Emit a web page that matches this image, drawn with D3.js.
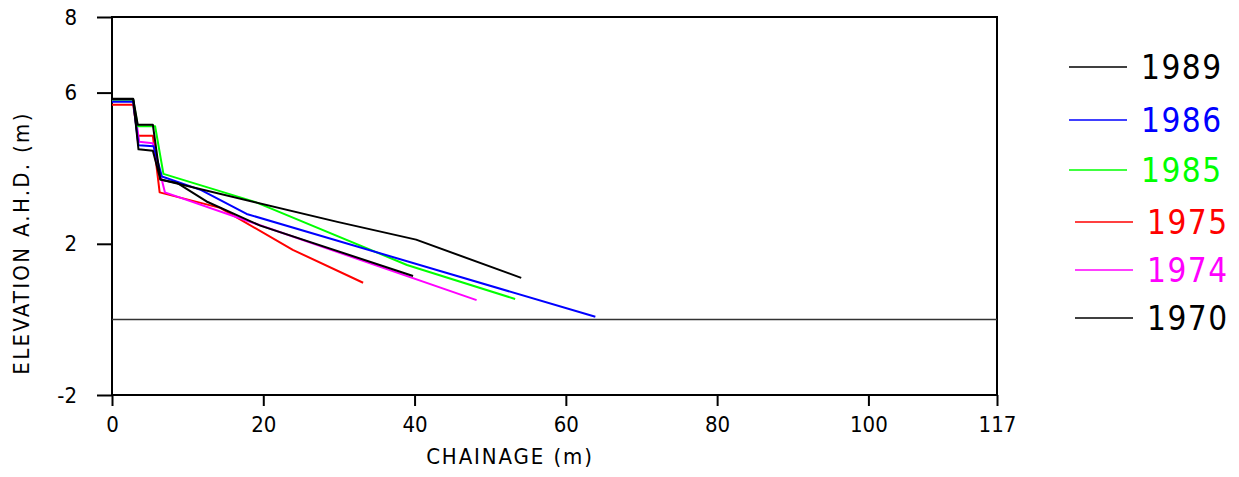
<!DOCTYPE html>
<meta charset="utf-8">
<style>
body { margin: 0; background: #fff; }
svg text { font-family: "Liberation Sans Narrow", "DejaVu Sans Condensed", sans-serif; }
.axis path, .axis line { stroke: #000; stroke-width: 2px; }
.series { fill: none; stroke-width: 2px; stroke-linejoin: round; }
</style>
<svg width="1239" height="477"></svg>
<script src="https://cdn.jsdelivr.net/npm/d3@7"></script>
<script>

// survey years, in legend order
var years = ["1989", "1986", "1985", "1975", "1974", "1970"];
var colors = ["#000000", "#0000ff", "#00ff00", "#ff0000", "#ff00ff", "#000000"];

// chainage (m) and elevation (m AHD) for each profile
var chain1989 = [0, 2.8, 3.4, 5.4, 6.4, 29.8, 40.2, 54.1];
var elev1989  = [5.84, 5.84, 5.15, 5.15, 3.70, 2.58, 2.11, 1.10];

var chain1986 = [0, 2.8, 3.5, 5.5, 6.6, 11.8, 17.8, 63.9];
var elev1986  = [5.76, 5.76, 4.61, 4.58, 3.78, 3.42, 2.79, 0.07];

var chain1985 = [0, 2.8, 3.4, 5.7, 6.8, 18.9, 39.0, 53.3];
var elev1985  = [5.81, 5.81, 5.11, 5.11, 3.85, 3.11, 1.44, 0.54];

var chain1975 = [0, 2.8, 3.4, 5.4, 6.3, 14.3, 23.9, 33.2];
var elev1975  = [5.68, 5.68, 4.86, 4.86, 3.36, 2.95, 1.84, 0.97];

var chain1974 = [0, 2.8, 3.6, 5.4, 7.0, 48.2];
var elev1974  = [5.80, 5.80, 4.70, 4.66, 3.36, 0.51];

var chain1970 = [0, 2.8, 3.5, 5.4, 6.4, 8.6, 12.5, 19.6, 39.8];
var elev1970  = [5.83, 5.83, 4.50, 4.46, 3.70, 3.61, 3.12, 2.48, 1.15];

var xTicks = [0, 20, 40, 60, 80, 100, 117];
var yTicks = [-2, 2, 6, 8];

var chains = [chain1989, chain1986, chain1985, chain1975, chain1974, chain1970];
var elevs  = [elev1989, elev1986, elev1985, elev1975, elev1974, elev1970];

var svg = d3.select("svg");
var mLeft = 112, mRight = 997, mTop = 17, mBottom = 395;

var x = d3.scaleLinear().domain([0, 117]).range([mLeft, mRight]);
var y = d3.scaleLinear().domain([-2, 8]).range([mBottom, mTop]);

// frame
svg.append("rect")
    .attr("x", mLeft).attr("y", mTop)
    .attr("width", mRight - mLeft).attr("height", mBottom - mTop)
    .attr("fill", "none").attr("stroke", "#000").attr("stroke-width", 2);

// zero line
svg.append("line")
    .attr("x1", x(0)).attr("x2", x(117))
    .attr("y1", y(0)).attr("y2", y(0))
    .attr("stroke", "#333").attr("stroke-width", 1.5);

var plain = function(d) { return String(d); };  // keep the ascii hyphen on -2

var xAxis = svg.append("g")
    .attr("class", "axis")
    .attr("transform", "translate(0," + mBottom + ")")
    .call(d3.axisBottom(x).tickValues(xTicks).tickSize(11).tickPadding(10).tickFormat(plain));
xAxis.select(".domain").remove();
xAxis.selectAll("text").attr("font-size", 22).attr("fill", "#000");

var yAxis = svg.append("g")
    .attr("class", "axis")
    .attr("transform", "translate(" + mLeft + ",0)")
    .call(d3.axisLeft(y).tickValues(yTicks).tickSize(15).tickPadding(20).tickFormat(plain));
yAxis.select(".domain").remove();
yAxis.selectAll("text").attr("font-size", 22).attr("fill", "#000");

svg.append("text")
    .attr("x", 510).attr("y", 464)
    .attr("text-anchor", "middle")
    .attr("font-size", 22)
    .attr("letter-spacing", 1.9)
    .text("CHAINAGE (m)");

svg.append("text")
    .attr("transform", "translate(29,243) rotate(-90)")
    .attr("text-anchor", "middle")
    .attr("font-size", 22)
    .attr("letter-spacing", 2.3)
    .text("ELEVATION A.H.D. (m)");

var line = d3.line()
    .x(function(d) { return x(d[0]); })
    .y(function(d) { return y(d[1]); });

// draw order: oldest under newest, 1970 last
var order = [3, 4, 2, 1, 0, 5];
order.forEach(function(i) {
  var pts = d3.zip(chains[i], elevs[i]);
  svg.append("path")
      .attr("class", "series")
      .attr("stroke", colors[i])
      .attr("d", line(pts));
});

// legend
var legY = [67, 120, 170, 222, 270, 318];
var legX = [1069, 1069, 1069, 1075, 1075, 1075];
var leg = svg.append("g");
years.forEach(function(yr, i) {
  leg.append("line")
      .attr("x1", legX[i]).attr("x2", legX[i] + 58)
      .attr("y1", legY[i]).attr("y2", legY[i])
      .attr("stroke", colors[i]).attr("stroke-width", 1.5);
  leg.append("text")
      .attr("x", legX[i] + 72).attr("y", legY[i])
      .attr("dy", "0.36em")
      .attr("font-size", 33)
      .attr("letter-spacing", 1.5)
      .attr("fill", colors[i])
      .text(yr);
});

</script>
